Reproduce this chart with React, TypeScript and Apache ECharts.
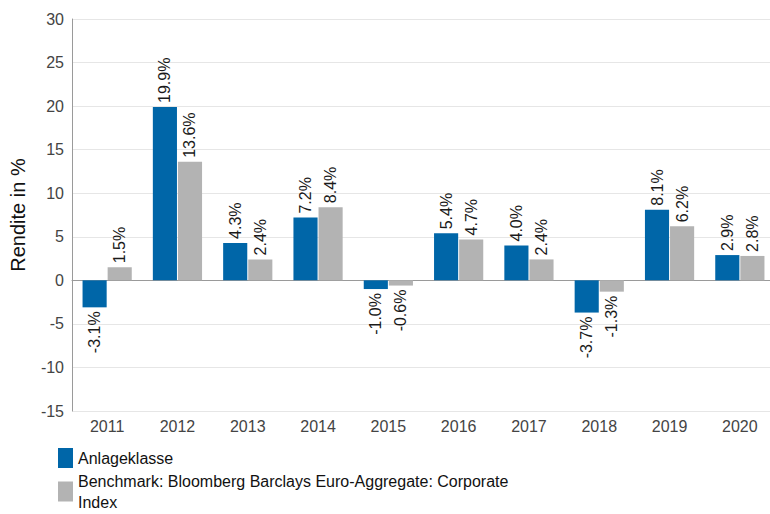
import React, { useEffect, useRef } from "react";
import * as echarts from "echarts";

const categories = ["2011", "2012", "2013", "2014", "2015", "2016", "2017", "2018", "2019", "2020"];
const seriesNames = ["Anlageklasse", "Benchmark: Bloomberg Barclays Euro-Aggregate: Corporate Index"];
const anlageklasse = [-3.1, 19.9, 4.3, 7.2, -1.0, 5.4, 4.0, -3.7, 8.1, 2.9];
const benchmark = [1.5, 13.6, 2.4, 8.4, -0.6, 4.7, 2.4, -1.3, 6.2, 2.8];
const colors = ["#0066a8", "#b3b3b3"];

const FONT = "Liberation Sans, Arial, sans-serif";

function makeData(values: number[]) {
  return values.map((v) => ({
    value: v,
    label: v < 0
      ? { position: "bottom", rotate: 90, align: "right", verticalAlign: "middle" }
      : { position: "top", rotate: 90, align: "left", verticalAlign: "middle" },
  }));
}

export default function App() {
  const ref = useRef<HTMLDivElement>(null);
  useEffect(() => {
    if (!ref.current) return;
    const chart = echarts.init(ref.current, null, { renderer: "svg" });
    const labelCommon = {
      show: true,
      distance: 4,
      fontSize: 16,
      color: "#1a1a1a",
      fontFamily: FONT,
      formatter: (p: any) => `${Number(p.value).toFixed(1)}%`,
    };
    const legendCommon = {
      orient: "vertical",
      left: 58,
      itemWidth: 15,
      itemHeight: 20,
      icon: "rect",
      padding: 0,
    };
    chart.setOption({
      animation: false,
      backgroundColor: "#ffffff",
      grid: { left: 72, top: 19, bottom: 103, width: 703, outerBoundsMode: "none" },
      legend: [
        {
          ...legendCommon,
          top: 448,
          data: [seriesNames[0]],
          textStyle: { fontSize: 16, color: "#111", fontFamily: FONT },
        },
        {
          ...legendCommon,
          top: 473,
          data: [seriesNames[1]],
          textStyle: { fontSize: 16, color: "#111", fontFamily: FONT, lineHeight: 21, padding: [0, 0, -21, 0] },
          formatter: () => "Benchmark: Bloomberg Barclays Euro-Aggregate: Corporate\nIndex",
        },
      ],
      xAxis: {
        type: "category",
        data: categories,
        axisLine: { lineStyle: { color: "#9a9a9a" } },
        axisTick: { show: false },
        axisLabel: { fontSize: 16, color: "#444", fontFamily: FONT, margin: 7 },
      },
      yAxis: {
        type: "value",
        min: -15,
        max: 30,
        interval: 5,
        name: "Rendite in %",
        nameLocation: "middle",
        nameGap: 44,
        nameMoveOverlap: false,
        nameTextStyle: { fontSize: 20, color: "#111", fontFamily: FONT },
        axisLine: { show: true, lineStyle: { color: "#9a9a9a" } },
        axisTick: { show: false },
        axisLabel: { fontSize: 16, color: "#444", fontFamily: FONT, margin: 8 },
        splitLine: { lineStyle: { color: "#e6e6e6" } },
      },
      series: [
        {
          name: seriesNames[0],
          type: "bar",
          data: makeData(anlageklasse),
          itemStyle: { color: colors[0] },
          barCategoryGap: "30%",
          barGap: "4%",
          label: labelCommon,
        },
        {
          name: seriesNames[1],
          type: "bar",
          data: makeData(benchmark),
          itemStyle: { color: colors[1] },
          barCategoryGap: "30%",
          barGap: "4%",
          label: labelCommon,
        },
      ],
    });
    return () => chart.dispose();
  }, []);
  return (
    <div
      ref={ref}
      style={{ position: "fixed", left: 0, top: 0, width: 770, height: 514 }}
    />
  );
}
